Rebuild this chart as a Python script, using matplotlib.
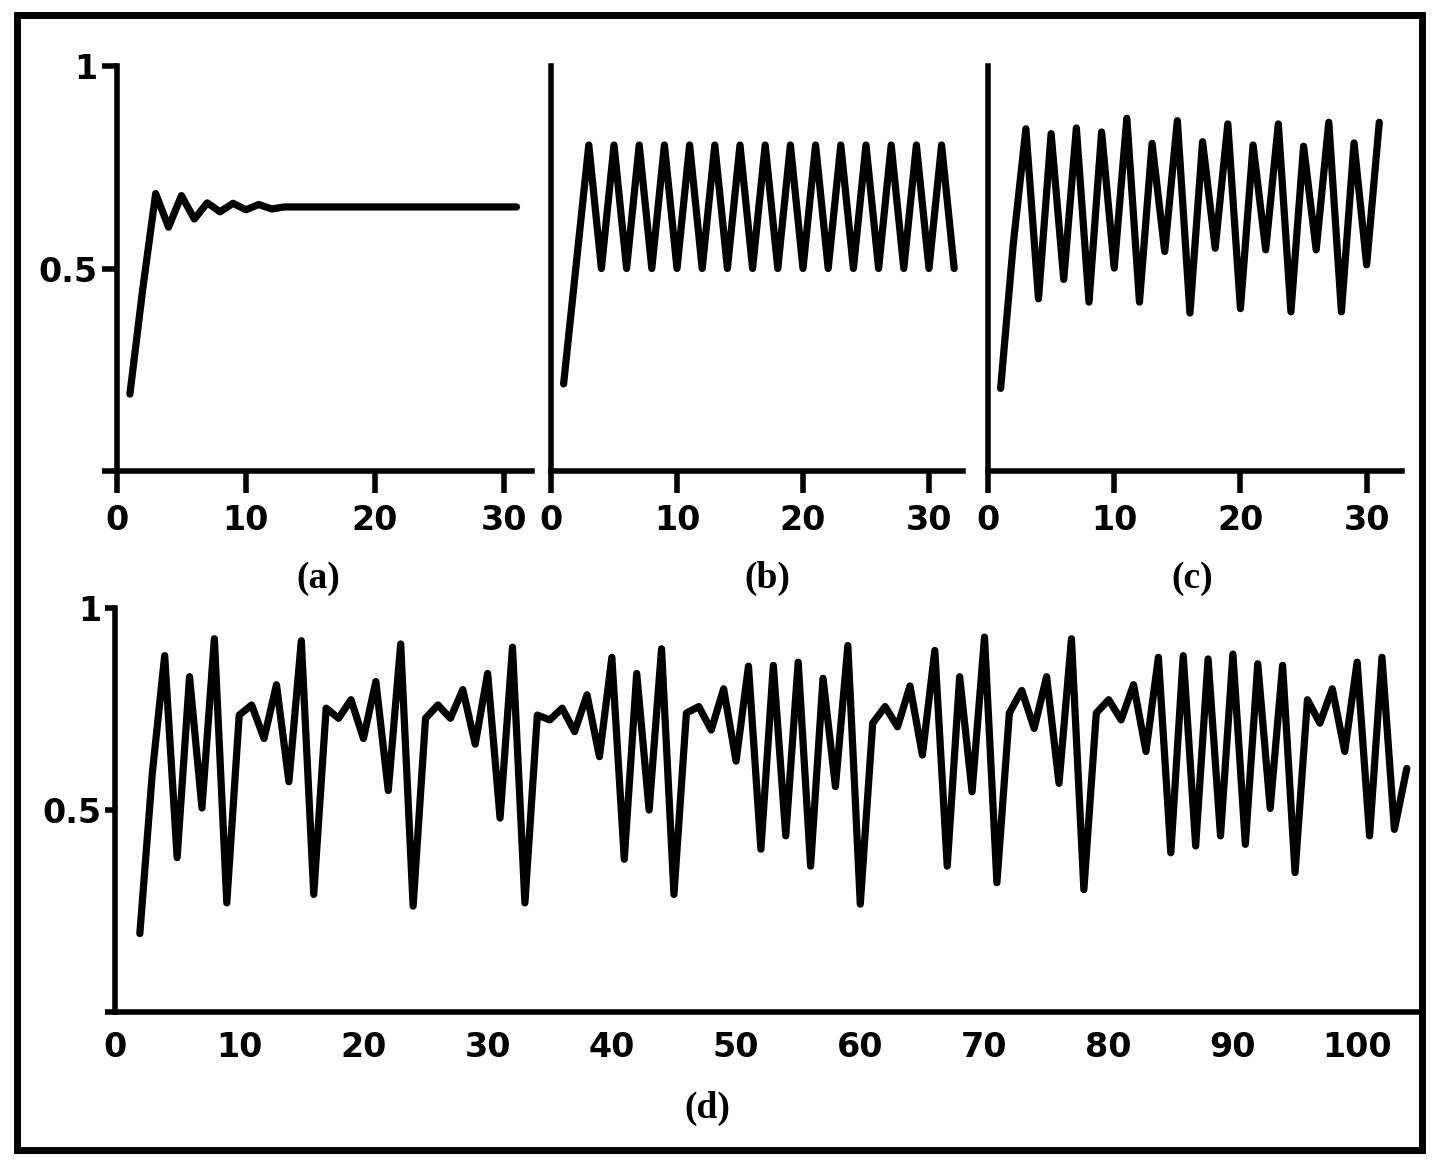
import matplotlib
matplotlib.use("Agg")
import matplotlib.pyplot as plt
from matplotlib.patches import Rectangle

# ---------------- data ----------------
a_x = list(range(1, 32))
a_y = [0.19, 0.45, 0.685, 0.602, 0.680, 0.622, 0.662, 0.640, 0.661, 0.645,
       0.658, 0.647, 0.652, 0.652, 0.652, 0.652, 0.652, 0.652, 0.652, 0.652,
       0.652, 0.652, 0.652, 0.652, 0.652, 0.652, 0.652, 0.652, 0.652, 0.652,
       0.652]

b_x = list(range(1, 33))
b_y = [0.215, 0.51,
       0.805, 0.50, 0.805, 0.50, 0.805, 0.50, 0.805, 0.50, 0.805, 0.50,
       0.805, 0.50, 0.805, 0.50, 0.805, 0.50, 0.805, 0.50, 0.805, 0.50,
       0.805, 0.50, 0.805, 0.50, 0.805, 0.50, 0.805, 0.50, 0.805, 0.50]

c_x = list(range(1, 32))
c_y = [0.204, 0.56,
       0.845, 0.425, 0.833, 0.473, 0.847, 0.417, 0.837, 0.501, 0.871, 0.417,
       0.809, 0.542, 0.865, 0.390, 0.813, 0.550, 0.857, 0.401, 0.805, 0.546,
       0.857, 0.393, 0.802, 0.546, 0.861, 0.393, 0.810, 0.509, 0.861]

d_x = list(range(2, 105))
d_y = [0.194, 0.59, 0.882, 0.382, 0.830, 0.505, 0.924, 0.270, 0.735, 0.760,
       0.677, 0.810, 0.570, 0.919, 0.291, 0.752, 0.727, 0.773, 0.677, 0.818,
       0.548, 0.911, 0.262, 0.727, 0.760, 0.727, 0.798, 0.663, 0.838, 0.480,
       0.903, 0.270, 0.735, 0.723, 0.752, 0.694, 0.785, 0.632, 0.878, 0.378,
       0.838, 0.500, 0.899, 0.291, 0.740, 0.756, 0.698, 0.800, 0.621, 0.856,
       0.403, 0.858, 0.436, 0.866, 0.361, 0.826, 0.558, 0.907, 0.267, 0.715,
       0.756, 0.706, 0.807, 0.636, 0.895, 0.361, 0.830, 0.545, 0.928, 0.320,
       0.740, 0.796, 0.702, 0.830, 0.566, 0.924, 0.303, 0.740, 0.773, 0.723,
       0.810, 0.645, 0.878, 0.394, 0.882, 0.411, 0.874, 0.436, 0.886, 0.415,
       0.862, 0.504, 0.858, 0.345, 0.773, 0.715, 0.800, 0.645, 0.866, 0.436,
       0.878, 0.452, 0.603]

top_xticks = [0, 10, 20, 30]
d_xticks = [0, 10, 20, 30, 40, 50, 60, 70, 80, 90, 100]
y_ticks = [0, 0.5, 1]
y_ticklabels = ["", "0.5", "1"]
panel_labels = ["(a)", "(b)", "(c)", "(d)"]

# ---------------- figure ----------------
W, H = 1447, 1167
fig = plt.figure(figsize=(W / 100, H / 100), dpi=100)
fig.patch.set_facecolor("white")

TICKFONT = dict(family="DejaVu Sans", weight="bold", size=24)
LW_LINE = 5.2
LW_SPINE = 4.0


def ax_at(x0, x1, ytop, ybot):
    return fig.add_axes([x0 / W, 1 - ybot / H, (x1 - x0) / W, (ybot - ytop) / H])


def style(ax):
    for s in ("top", "right"):
        ax.spines[s].set_visible(False)
    for s in ("left", "bottom"):
        ax.spines[s].set_linewidth(LW_SPINE)
        ax.spines[s].set_color("black")
        ax.spines[s].set_capstyle("projecting")
    ax.set_facecolor("none")
    for lab in ax.get_xticklabels() + ax.get_yticklabels():
        lab.set_fontfamily(TICKFONT["family"])
        lab.set_fontweight(TICKFONT["weight"])
        lab.set_fontsize(TICKFONT["size"])


def draw(ax, xs, ys):
    ax.plot(xs, ys, color="black", lw=LW_LINE, solid_joinstyle="round",
            solid_capstyle="round", clip_on=False)


# panel (a)
axa = ax_at(117, 532, 66, 471)
draw(axa, a_x, a_y)
axa.set_xlim(0, 32.2)
axa.set_ylim(0, 1)
axa.set_xticks(top_xticks)
axa.set_yticks(y_ticks)
axa.set_yticklabels(y_ticklabels)
axa.tick_params(axis="x", direction="out", length=16, width=LW_SPINE, pad=8)
axa.tick_params(axis="y", direction="out", length=11, width=LW_SPINE, pad=3)
style(axa)

# panel (b)
axb = ax_at(551, 963, 66, 471)
draw(axb, b_x, b_y)
axb.set_xlim(0, 32.7)
axb.set_ylim(0, 1)
axb.set_xticks(top_xticks)
axb.set_yticks([])
axb.tick_params(axis="x", direction="out", length=16, width=LW_SPINE, pad=8)
style(axb)

# panel (c)
axc = ax_at(988, 1402, 66, 471)
draw(axc, c_x, c_y)
axc.set_xlim(0, 32.8)
axc.set_ylim(0, 1)
axc.set_xticks(top_xticks)
axc.set_yticks([])
axc.tick_params(axis="x", direction="out", length=16, width=LW_SPINE, pad=8)
style(axc)

# panel (d)
axd = ax_at(115, 1418, 608, 1012)
draw(axd, d_x, d_y)
axd.set_xlim(0, 104.9)
axd.set_ylim(0, 1)
axd.set_xticks(d_xticks)
axd.set_yticks(y_ticks)
axd.set_yticklabels(y_ticklabels)
axd.tick_params(axis="x", direction="out", length=0, pad=14)
axd.tick_params(axis="y", direction="out", length=7, width=LW_SPINE, pad=3)
style(axd)

# panel labels
LABFONT = dict(family="Liberation Serif", weight="bold", size=27)
for lab, (px, py) in zip(panel_labels, [(318, 578), (767, 578), (1192, 578), (707, 1108)]):
    fig.text(px / W, 1 - py / H, lab, ha="center", va="center", **LABFONT)

# outer frame
fig.patches.append(Rectangle((17 / W, 1 - 1150 / H), (1422 - 17) / W, (1150 - 15) / H,
                             transform=fig.transFigure, fill=False,
                             edgecolor="black", lw=5))

fig.savefig("out.png", dpi=100, facecolor="white")
